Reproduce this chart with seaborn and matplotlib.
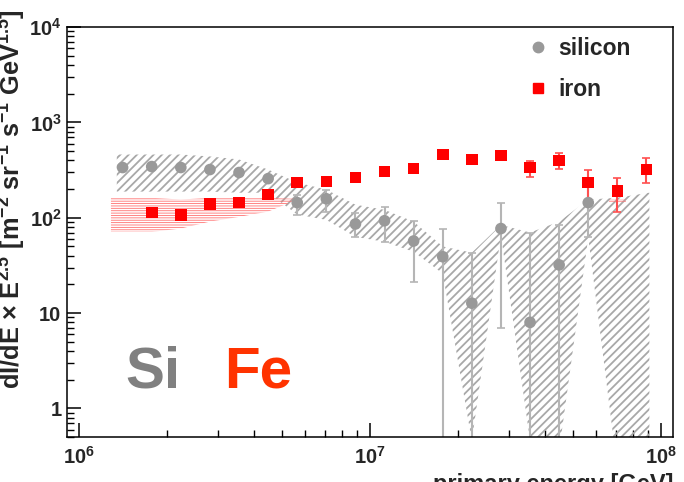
import numpy as np
import pandas as pd
import seaborn as sns
import matplotlib.pyplot as plt
from matplotlib.ticker import FixedLocator, FixedFormatter, LogLocator, NullFormatter
from matplotlib.lines import Line2D

# log10(E / GeV) of the bin centres
si_log_e = [6.15, 6.25, 6.35, 6.45, 6.55, 6.65, 6.75, 6.85, 6.95, 7.05,
            7.15, 7.25, 7.35, 7.45, 7.55, 7.65, 7.75]
si_flux = [336, 344, 336, 320, 298, 257, 144, 158, 86, 93,
           57, 39, 12.7, 77, 8.0, 32, 144]
si_hi = [350, 358, 350, 333, 311, 270, 175, 197, 113, 131,
         93, 77, 43, 144, 70, 84, 250]
si_lo = [322, 330, 322, 307, 285, 245, 108, 116, 63, 55,
         21, 0.01, 0.01, 7, 0.01, 0.01, 63]

fe_log_e = [6.25, 6.35, 6.45, 6.55, 6.65, 6.75, 6.85, 6.95, 7.05, 7.15,
            7.25, 7.35, 7.45, 7.55, 7.65, 7.75, 7.85, 7.95]
fe_flux = [113, 107, 140, 144, 175, 234, 239, 264, 305, 328,
           460, 408, 450, 336, 398, 234, 192, 320]
fe_hi = [118, 112, 146, 150, 183, 245, 250, 276, 319, 343,
         481, 427, 470, 398, 472, 320, 264, 418]
fe_lo = [108, 102, 134, 138, 167, 223, 228, 252, 291, 313,
         439, 389, 430, 269, 328, 137, 116, 234]

# systematic bands
si_band_log_e = [6.13, 6.25, 6.35, 6.45, 6.55, 6.65, 6.75, 6.85, 6.95, 7.05,
                 7.15, 7.25, 7.35, 7.45, 7.55, 7.65, 7.75, 7.85, 7.96]
si_band_hi = [460, 460, 460, 439, 408, 320, 234, 197, 137, 121,
              91, 50, 43, 84, 70, 91, 155, 162, 183]
si_band_lo = [188, 188, 188, 188, 183, 183, 108, 95, 63, 56,
              44, 26, 0.46, 66, 0.46, 0.36, 62, 0.23, 0.22]

fe_band_log_e = [6.11, 6.25, 6.35, 6.45, 6.55, 6.65, 6.75]
fe_band_hi = [162, 162, 155, 162, 162, 162, 158]
fe_band_lo = [71, 71, 77, 91, 102, 116, 155]
fe_band2_log_e = [7.82, 7.88]
fe_band2_hi = [158, 158]
fe_band2_lo = [144, 144]

SI_GRAY = "#999999"
FE_RED = "#ff0000"

df_si = pd.DataFrame({"energy": np.power(10.0, si_log_e), "flux": si_flux,
                      "hi": si_hi, "lo": si_lo})
df_fe = pd.DataFrame({"energy": np.power(10.0, fe_log_e), "flux": fe_flux,
                      "hi": fe_hi, "lo": fe_lo})

sns.set_style("white")
plt.rcParams["font.family"] = ["Liberation Sans", "DejaVu Sans"]
plt.rcParams["font.weight"] = "bold"
plt.rcParams["mathtext.fontset"] = "custom"
plt.rcParams["mathtext.rm"] = "Liberation Sans:bold"
plt.rcParams["mathtext.bf"] = "Liberation Sans:bold"
plt.rcParams["mathtext.default"] = "bf"
plt.rcParams["hatch.linewidth"] = 1.3

fig = plt.figure(figsize=(6.84, 4.82), dpi=100)
ax = fig.add_axes([0.098, 0.093, 0.886, 0.851])
ax.set_xscale("log")
ax.set_yscale("log")

# bands
ax.fill_between(np.power(10.0, si_band_log_e), si_band_lo, si_band_hi,
                facecolor="none", edgecolor="#a8a8a8", linewidth=0, hatch="////", zorder=1)
plt.rcParams["hatch.linewidth"] = 0.6
ax.fill_between(np.power(10.0, fe_band_log_e), fe_band_lo, fe_band_hi,
                facecolor="none", edgecolor="#ff7070", linewidth=0, hatch="-------", zorder=1)
ax.fill_between(np.power(10.0, fe_band2_log_e), fe_band2_lo, fe_band2_hi,
                facecolor="none", edgecolor="#ff7070", linewidth=0, hatch="-------", zorder=1)

# statistical errors
ax.errorbar(df_si["energy"], df_si["flux"],
            yerr=[df_si["flux"] - df_si["lo"], df_si["hi"] - df_si["flux"]],
            fmt="none", ecolor="#b5b5b5", elinewidth=1.5, capsize=3, capthick=1.2, zorder=2)
ax.errorbar(df_fe["energy"], df_fe["flux"],
            yerr=[df_fe["flux"] - df_fe["lo"], df_fe["hi"] - df_fe["flux"]],
            fmt="none", ecolor="#ff5050", elinewidth=1.5, capsize=3, capthick=1.2, zorder=3)

sns.scatterplot(data=df_si, x="energy", y="flux", marker="o", color=SI_GRAY,
                s=70, edgecolor="none", ax=ax, zorder=4, legend=False)
sns.scatterplot(data=df_fe, x="energy", y="flux", marker="s", color=FE_RED,
                s=70, edgecolor="none", ax=ax, zorder=5, legend=False)

ax.set_xlim(9.1e5, 1.1e8)
ax.set_ylim(0.5, 1e4)

ax.xaxis.set_major_locator(FixedLocator([1e6, 1e7, 1e8]))
ax.xaxis.set_major_formatter(FixedFormatter([r"10$^{6}$", r"10$^{7}$", r"10$^{8}$"]))
ax.xaxis.set_minor_locator(LogLocator(base=10, subs=np.arange(2, 10)))
ax.xaxis.set_minor_formatter(NullFormatter())
ax.yaxis.set_major_locator(FixedLocator([1, 10, 100, 1000, 10000]))
ax.yaxis.set_major_formatter(FixedFormatter(["1", "10", r"10$^{2}$", r"10$^{3}$", r"10$^{4}$"]))
ax.yaxis.set_minor_locator(LogLocator(base=10, subs=np.arange(2, 10)))
ax.yaxis.set_minor_formatter(NullFormatter())

ax.tick_params(which="both", direction="in", top=False, right=False,
               bottom=True, left=True, labelsize=14.5, color="black")
ax.tick_params(which="major", length=10, width=1.1)
ax.tick_params(which="minor", length=5, width=1.0)
ax.tick_params(axis="x", which="major", pad=6)
ax.tick_params(axis="y", which="major", pad=4)
for sp in ax.spines.values():
    sp.set_color("black")
    sp.set_linewidth(1.1)

ax.set_ylabel(r"dI/dE $\times$ E$^{2.5}$ [m$^{-2}$ sr$^{-1}$ s$^{-1}$ GeV$^{1.5}$]",
              fontsize=18.3, fontweight="bold", loc="top")
ax.yaxis.set_label_coords(-0.064, 1.044)
ax.set_xlabel("primary energy [GeV]", fontsize=17, fontweight="bold", loc="right")
ax.xaxis.set_label_coords(1.0, -0.087)

ax.text(0.097, 0.12, "Si", transform=ax.transAxes, fontsize=42,
        fontweight="bold", color="#808080", ha="left", va="baseline")
ax.text(0.259, 0.12, "Fe", transform=ax.transAxes, fontsize=42,
        fontweight="bold", color="#ff3300", ha="left", va="baseline")

handles = [
    Line2D([], [], marker="o", color=SI_GRAY, linestyle="none", markersize=7.5),
    Line2D([], [], marker="s", color=FE_RED, linestyle="none", markersize=7.5),
]
ax.legend(handles, ["silicon", "iron"], loc="upper left", bbox_to_anchor=(0.724, 1.025),
          frameon=False, labelspacing=0.75, handletextpad=0.4,
          handlelength=1.0, prop={"weight": "bold", "size": 16.5})

plt.savefig("out.png", dpi=100)
